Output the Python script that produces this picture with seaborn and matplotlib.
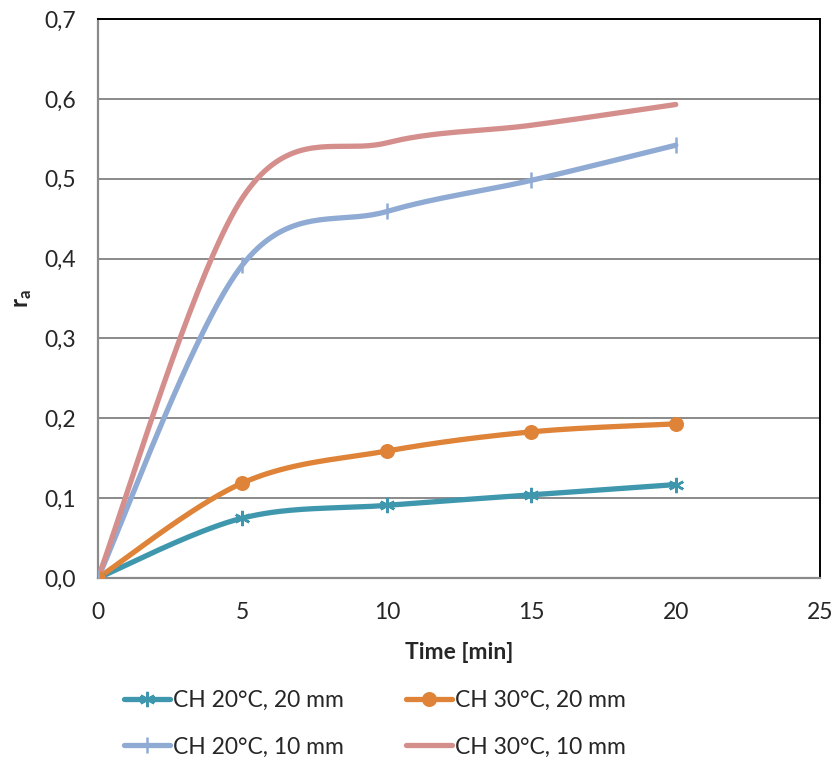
import matplotlib
matplotlib.use("Agg")
import matplotlib.pyplot as plt
import seaborn as sns
import numpy as np

time_min = [0, 5, 10, 15, 20]
ch20_20mm = [0.0, 0.075, 0.091, 0.104, 0.117]
ch30_20mm = [0.0, 0.119, 0.159, 0.183, 0.193]
ch20_10mm = [0.0, 0.392, 0.459, 0.498, 0.542]
ch30_10mm = [0.0, 0.476, 0.545, 0.567, 0.593]
y_ticks = [0.0, 0.1, 0.2, 0.3, 0.4, 0.5, 0.6, 0.7]
x_ticks = [0, 5, 10, 15, 20, 25]

series = [
    ("CH 20°C, 20 mm", ch20_20mm, "#3E97AD", (6, 2, 0), 11),
    ("CH 30°C, 20 mm", ch30_20mm, "#DE8338", "o", 9),
    ("CH 20°C, 10 mm", ch20_10mm, "#8FAAD3", "|", 11),
    ("CH 30°C, 10 mm", ch30_10mm, "#D48E8C", None, 0),
]


def smooth(xs, ys, n=40):
    # excel-like smoothed line: catmull-rom bezier between the points
    x = np.asarray(xs, float)
    y = np.asarray(ys, float)
    px = np.concatenate([[x[0]], x, [x[-1]]])
    py = np.concatenate([[y[0]], y, [y[-1]]])
    out_x, out_y = [], []
    t = np.linspace(0, 1, n)
    for i in range(1, len(px) - 2):
        p0 = np.array([px[i], py[i]])
        p3 = np.array([px[i + 1], py[i + 1]])
        c1 = p0 + (p3 - np.array([px[i - 1], py[i - 1]])) / 6
        c2 = p3 - (np.array([px[i + 2], py[i + 2]]) - p0) / 6
        b = (np.outer((1 - t) ** 3, p0) + np.outer(3 * (1 - t) ** 2 * t, c1)
             + np.outer(3 * (1 - t) * t ** 2, c2) + np.outer(t ** 3, p3))
        out_x.extend(b[:, 0])
        out_y.extend(b[:, 1])
    return out_x, out_y


sns.set_style("white")
plt.rcParams["font.family"] = ["Lato", "DejaVu Sans"]
plt.rcParams["mathtext.fontset"] = "custom"
plt.rcParams["mathtext.rm"] = "Lato"
plt.rcParams["mathtext.bf"] = "Lato:bold"

fs = 16.5
fig = plt.figure(figsize=(8.37, 7.62), dpi=100)
ax = fig.add_axes([0.117, 0.2415, 0.863, 0.7335])

handles = []
for name, vals, col, mk, ms in series:
    sx, sy = smooth(time_min, vals)
    sns.lineplot(x=sx, y=sy, sort=False, color=col, linewidth=3.8, ax=ax,
                 solid_capstyle="round", zorder=3)
    if mk is not None:
        ax.plot(time_min, vals, linestyle="none", marker=mk, markersize=ms,
                color=col, markeredgecolor=col, markeredgewidth=1.8, zorder=4)
    h, = ax.plot([], [], color=col, linewidth=3.8, marker=mk, markersize=ms,
                 markeredgecolor=col, markeredgewidth=1.8,
                 solid_capstyle="round")
    handles.append((h, name))

ax.set_xlim(0, 25)
ax.set_ylim(0, 0.7)
ax.set_xticks(x_ticks)
ax.set_yticks(y_ticks)
ax.set_yticklabels([f"{v:.1f}".replace(".", ",") for v in y_ticks])
ax.grid(axis="y", color="#8a8a8a", linewidth=1.4)
ax.set_axisbelow(True)
ax.tick_params(axis="both", direction="out", length=6, width=1.4,
               color="#8a8a8a", labelsize=fs)
ax.tick_params(axis="x", pad=11)
ax.tick_params(axis="y", pad=10)
for s in ["left", "bottom"]:
    ax.spines[s].set_color("#8a8a8a")
    ax.spines[s].set_linewidth(1.6)
for s in ["top", "right"]:
    ax.spines[s].set_color("black")
    ax.spines[s].set_linewidth(1.4)

ax.set_xlabel("Time [min]", fontsize=fs, fontweight="bold", labelpad=14)
ax.set_ylabel(r"$\mathbf{r_a}$", fontsize=fs + 1, labelpad=7)

# row-wise order like the original legend
order = [0, 2, 1, 3]
fig.legend([handles[i][0] for i in order], [handles[i][1] for i in order],
           ncol=2, loc="center left", bbox_to_anchor=(0.135, 0.050),
           frameon=False, fontsize=fs, handlelength=2.0, handletextpad=0.1,
           columnspacing=2.75, labelspacing=1.1, borderpad=0)

fig.savefig("out.png", dpi=100)
